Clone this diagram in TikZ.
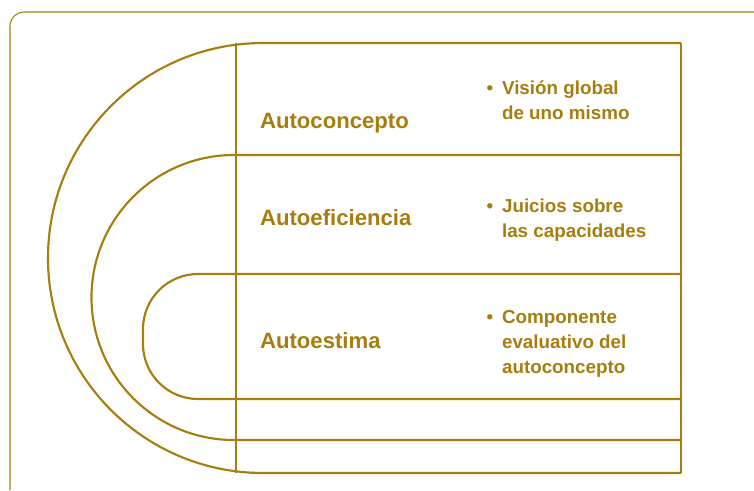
\documentclass[tikz,border=0pt]{standalone}
\usepackage{fontspec}
\setmainfont{Liberation Sans}
\definecolor{gold}{RGB}{166,125,14}

\begin{document}
\begin{tikzpicture}[x=0.75pt, y=-0.75pt, line width=1.6pt, draw=gold, text=gold]
   \useasboundingbox (0,0) rectangle (754,490);
   \tikzset{lbl/.style={anchor=base west, inner sep=0pt, font=\bfseries\fontsize{16.6}{20}\selectfont},
            desc/.style={anchor=base west, inner sep=0pt, align=left, font=\bfseries\fontsize{14.1}{18.75}\selectfont},
            bul/.style={anchor=base, inner sep=0pt, font=\bfseries\fontsize{14.1}{18.75}\selectfont}}

\coordinate (tl) at (236,43);
\coordinate (bl) at (236,473);
\coordinate (tr) at (681,43);
\coordinate (br) at (681,473);

% outer frame
\draw[line width=0.8pt, rounded corners=10.5pt] (754,12) -- (10,12) -- (10,490);

% three bands
\draw (tr) -- (263,43) arc[start angle=270, end angle=90, radius=215] -- (br);
\draw (681,155) -- (234,155) arc[start angle=270, end angle=90, radius=142.5] -- (681,440);
\draw[rounded corners=41.25pt] (681,274) -- (143,274) -- (143,399) -- (681,399);

\draw (tl) -- (bl);
\draw (tr) -- (br);

\node[lbl] (c1) at (259,128) {Autoconcepto};
\node[lbl] (c2) at (259,225) {Autoeficiencia};
\node[lbl] (c3) at (259,348) {Autoestima};

% descriptions, placed at the baseline of their last line
\node[desc] (d1) at (501,119) {Visión global\\de uno mismo};
\node[desc] (d2) at (501,237) {Juicios sobre\\las capacidades};
\node[desc] (d3) at (501,373) {Componente\\evaluativo del\\autoconcepto};

\foreach \y/\n in {94/1,212/2,323/3}
       \node[bul] (b\n) at (490,\y) {•};
\end{tikzpicture}
\end{document}
